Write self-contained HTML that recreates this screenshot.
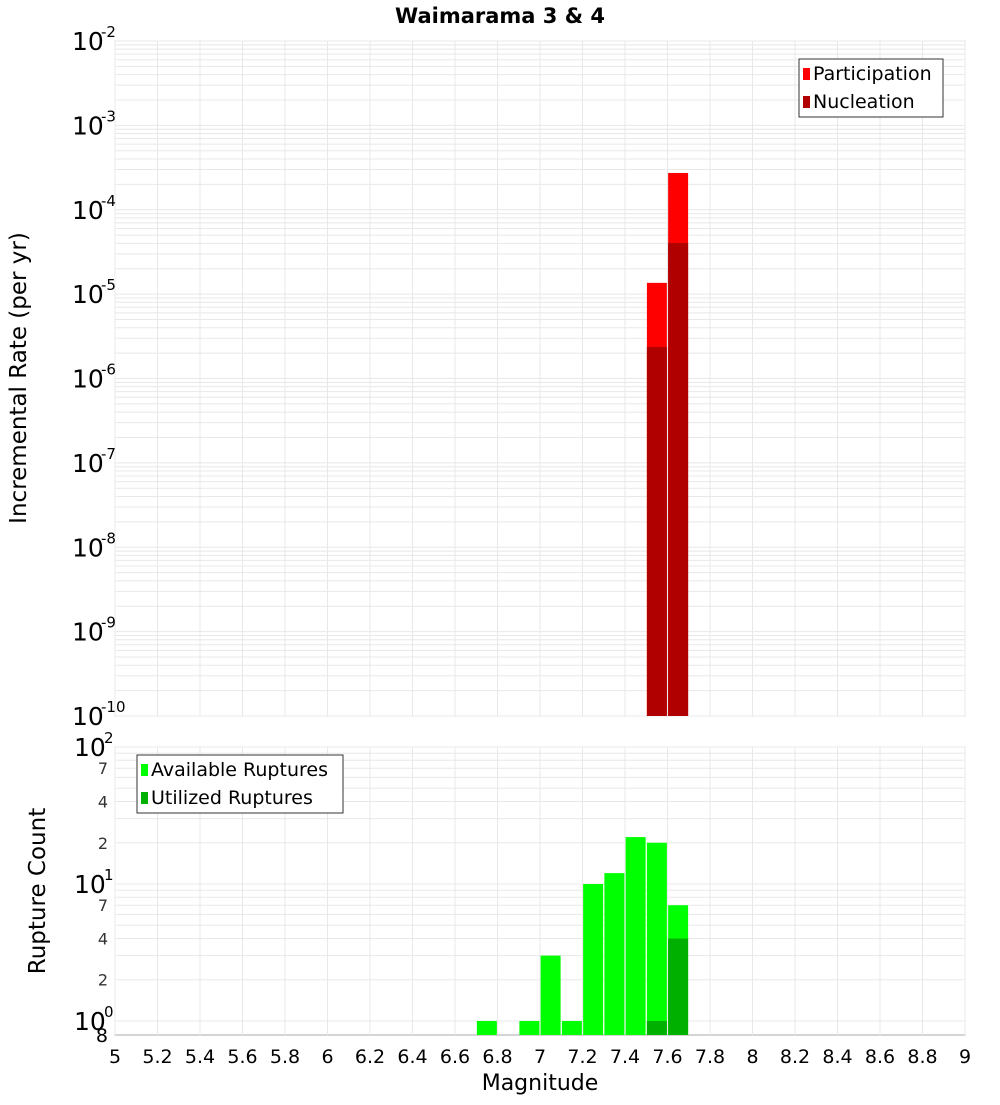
<!DOCTYPE html>
<html><head><meta charset="utf-8"><style>
body{margin:0;background:#fff;font-family:"Liberation Sans","DejaVu Sans",sans-serif}
svg text{font-family:"DejaVu Sans","Liberation Sans",sans-serif}
</style></head><body>
<svg id="c" width="1000" height="1100" viewBox="0 0 1000 1100" xmlns="http://www.w3.org/2000/svg">
<text x="500" y="23" text-anchor="middle" font-size="21" font-weight="bold">Waimarama 3 &amp; 4</text>
<text transform="translate(26,378) rotate(-90)" text-anchor="middle" font-size="23">Incremental Rate (per yr)</text>
<text transform="translate(45,891) rotate(-90)" text-anchor="middle" font-size="23">Rupture Count</text>
<text x="540" y="1090" text-anchor="middle" font-size="22">Magnitude</text>
</svg>
<script>
const mags=[6.75,6.95,7.05,7.15,7.25,7.35,7.45,7.55,7.65];
const available=[1,1,3,1,10,12,22,20,7];
const utilMags=[7.55,7.65];
const utilized=[1,4];
const rateMags=[7.55,7.65];
const participation=[1.36e-5,2.73e-4];
const nucleation=[2.37e-6,4.04e-5];
const xTicks=[5,5.2,5.4,5.6,5.8,6,6.2,6.4,6.6,6.8,7,7.2,7.4,7.6,7.8,8,8.2,8.4,8.6,8.8,9];
const topDecades=[-10,-9,-8,-7,-6,-5,-4,-3,-2];
const botDecades=[0,1,2];
const botMinorLabels=[2,4,7];

const NS="http://www.w3.org/2000/svg",svg=document.getElementById('c');
const L=115,R=965,T1=41,B1=716,T2=747,B2=1035;
const x=m=>L+(m-5)/4*(R-L);
const yTop=v=>T1+(-2-Math.log10(v))/8*(B1-T1);
const botMin=0.79,botMax=100;
const yBot=v=>B2-(Math.log10(v)-Math.log10(botMin))/(Math.log10(botMax)-Math.log10(botMin))*(B2-T2);
function mk(t,a,txt){const e=document.createElementNS(NS,t);for(const k in a)e.setAttribute(k,a[k]);if(txt!=null)e.textContent=txt;svg.appendChild(e);return e;}

let bg=mk('rect',{x:L,y:T1,width:R-L,height:B1-T1,fill:'#fff',stroke:'#aaa'});


bg=mk('rect',{x:L,y:T2,width:R-L,height:B2-T2,fill:'#fff',stroke:'#aaa'});



xTicks.forEach(m=>{
  [[T1,B1],[T2,B2]].forEach(([a,b])=>{
    const g=mk('line',{x1:x(m),x2:x(m),y1:a,y2:b,stroke:'#e8e8e8'});
    
    
  });
  const t=mk('text',{x:x(m),y:1063,'text-anchor':'middle','font-size':19},String(m));
  
  
});
topDecades.forEach(d=>{
  for(let k=1;k<=9;k++){
    const v=k*Math.pow(10,d);const yy=yTop(v);
    if(yy<T1-0.5||yy>B1+0.5)continue;
    const g=mk('line',{x1:L,x2:R,y1:yy,y2:yy,stroke:'#e8e8e8'});
    
    
  }
  const yy=yTop(Math.pow(10,d));
  const t=mk('text',{x:72,y:yy+9,'font-size':25},'10');
  
  
  const s=mk('text',{x:101,y:yy-4,'font-size':15},String(d));
  
  
});
botDecades.forEach(d=>{
  for(let k=1;k<=9;k++){
    const v=k*Math.pow(10,d);const yy=yBot(v);
    if(yy<T2-0.5||yy>B2+0.5)continue;
    const g=mk('line',{x1:L,x2:R,y1:yy,y2:yy,stroke:'#e8e8e8'});
    
    
    if(botMinorLabels.includes(k)){
      const t=mk('text',{x:108,y:yy+6,'text-anchor':'end','font-size':16,fill:'#333'},String(k));
      
      
    }
  }
  const yy=yBot(Math.pow(10,d));
  const t=mk('text',{x:74,y:yy+9,'font-size':25},'10');
  
  
  const s=mk('text',{x:104,y:yy-4,'font-size':15},String(d));
  
  
});
const e8=mk('text',{x:108,y:1042,'text-anchor':'end','font-size':19},'8');



const hw=0.047;
rateMags.forEach((m,i)=>{
  let r=mk('rect',{x:x(m-hw),y:yTop(participation[i]),width:x(m+hw)-x(m-hw),height:B1-yTop(participation[i]),fill:'#ff0000'});
  
  
  r=mk('rect',{x:x(m-hw),y:yTop(nucleation[i]),width:x(m+hw)-x(m-hw),height:B1-yTop(nucleation[i]),fill:'#b00000'});
  
  
});
mags.forEach((m,i)=>{
  const r=mk('rect',{x:x(m-hw),y:yBot(available[i]),width:x(m+hw)-x(m-hw),height:B2-yBot(available[i]),fill:'#00ff00'});
  
  
});
utilMags.forEach((m,i)=>{
  const r=mk('rect',{x:x(m-hw),y:yBot(utilized[i]),width:x(m+hw)-x(m-hw),height:B2-yBot(utilized[i]),fill:'#00b000'});
  
  
});
function legend(x0,y0,w,items,name){
  const b=mk('rect',{x:x0,y:y0,width:w,height:58,fill:'#fff',stroke:'#333'});
  
  
  items.forEach(([lab,col],i)=>{
    const sw=mk('rect',{x:x0+4,y:y0+9+i*28,width:7,height:12,fill:col});
    
    
    const t=mk('text',{x:x0+14,y:y0+21+i*28,'font-size':19},lab);
    
    
  });
}
legend(799,59,144,[['Participation','#ff0000'],['Nucleation','#b00000']],'top-legend');
legend(137,755,206,[['Available Ruptures','#00ff00'],['Utilized Ruptures','#00b000']],'bottom-legend');
</script>
</body></html>
